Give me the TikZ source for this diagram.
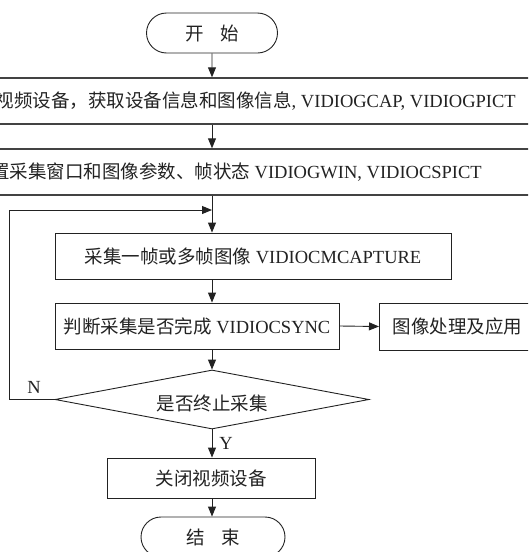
\documentclass[tikz,border=0pt]{standalone}
\usepackage{fontspec}
\setmainfont{Liberation Serif}
\newfontfamily\cjk{Noto Sans CJK SC}
\usetikzlibrary{shapes.geometric,shapes.misc,arrows.meta}
\definecolor{ink}{HTML}{222222}
\newcommand{\zh}[1]{{\cjk #1}}
\begin{document}
\begin{tikzpicture}[x=1pt,y=-1pt,
  font=\fontsize{18.5}{22}\selectfont, every node/.style={text=ink},
  line/.style={draw=ink, line width=0.9pt},
  arr/.style={line, -{Triangle[length=10pt,width=8pt]}},
  box/.style={line, rectangle, inner sep=0pt},
  widebox/.style={draw=ink!85, line width=1.4pt, rectangle, inner sep=0pt},
  term/.style={line, rounded rectangle, inner sep=0pt},
  decision/.style={line, diamond, inner sep=0pt}]
\useasboundingbox (0,0) rectangle (528,552);
\clip (0,0) rectangle (528,552);

\node[term, minimum width=131pt, minimum height=40pt] (start) at (212,33) {\zh{开\hspace{17pt}始}};

\node[widebox, minimum width=560pt, minimum height=46pt] (b1) at (270,101) {};
\node[anchor=east, inner sep=0pt] (t1) at (516,101) {\zh{视频设备，获取设备信息和图像信息}, VIDIOGCAP, VIDIOGPICT};

\node[widebox, minimum width=560pt, minimum height=46pt] (b2) at (270,172) {};
\node[anchor=east, inner sep=0pt] (t2) at (482,172) {\zh{置采集窗口和图像参数、帧状态} VIDIOGWIN, VIDIOCSPICT};

\node[box, minimum width=396pt, minimum height=46pt] (b3) at (253,256) {\zh{采集一帧或多帧图像} VIDIOCMCAPTURE};

\node[box, minimum width=284pt, minimum height=46pt] (b4) at (197,326) {\zh{判断采集是否完成} VIDIOCSYNC};

\node[box, minimum width=180pt, minimum height=47pt, anchor=west] (b5) at (379,326.5) {\hspace{-24pt}\zh{图像处理及应用}};

\node[decision, minimum width=314pt, minimum height=59pt, aspect=5.3] (dia) at (212,399.5) {};
\node[inner sep=0pt] (td) at (212,403) {\zh{是否终止采集}};

\node[box, minimum width=208pt, minimum height=40pt] (b6) at (211,478) {\zh{关闭视频设备}};

\node[term, minimum width=144pt, minimum height=40pt] (end) at (213,537) {\zh{结\hspace{17pt}束}};

\coordinate (loopin) at (212,210);
\coordinate (corner) at (9,399.5);

\draw[arr] (start) -- (b1.north -| start);
\draw[arr] (b1.south -| start) -- (b2.north -| start);
\draw[arr] (b2.south -| start) -- (b3.north -| start);
\draw[arr] (b3.south -| start) -- (b4.north -| start);
\draw[arr] (b4.east) -- (b5.west);
\draw[arr] (b4.south -| start) -- (dia.north);
\draw[arr] (dia.south) -- (b6.north -| dia.south) node[midway, right=7pt, inner sep=0pt] (y) {Y};
\draw[arr] (b6.south -| start) -- (end.north -| start);
\draw[arr] (dia.west) -- (corner) |- (loopin);
\node[inner sep=0pt] (n) at (34,387) {N};
\end{tikzpicture}
\end{document}
